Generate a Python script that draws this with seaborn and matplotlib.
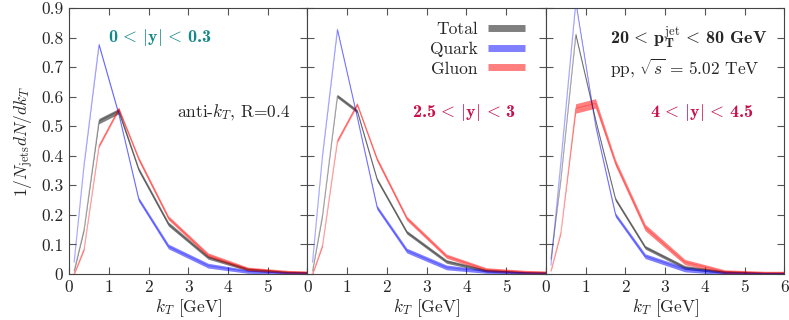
import numpy as np
import pandas as pd
import seaborn as sns
import matplotlib.pyplot as plt
from matplotlib.lines import Line2D

# bin centres in kT [GeV]
kt = [0.125, 0.375, 0.75, 1.25, 1.75, 2.5, 3.5, 4.5, 5.5, 6.0]

# panel 1: 0 < |y| < 0.3
total_1 = [0.01, 0.15, 0.517, 0.551, 0.354, 0.169, 0.056, 0.015, 0.005, 0.004]
quark_1 = [0.04, 0.37, 0.776, 0.54, 0.253, 0.093, 0.028, 0.008, 0.003, 0.002]
gluon_1 = [0.0, 0.084, 0.433, 0.559, 0.39, 0.19, 0.064, 0.017, 0.007, 0.005]
# panel 2: 2.5 < |y| < 3
total_2 = [0.01, 0.197, 0.602, 0.551, 0.32, 0.141, 0.042, 0.011, 0.004, 0.003]
quark_2 = [0.04, 0.40, 0.827, 0.53, 0.225, 0.079, 0.022, 0.008, 0.003, 0.002]
gluon_2 = [0.0, 0.096, 0.45, 0.574, 0.388, 0.188, 0.06, 0.015, 0.007, 0.005]
# panel 3: 4 < |y| < 4.5
total_3 = [0.05, 0.32, 0.81, 0.52, 0.253, 0.09, 0.022, 0.006, 0.002, 0.002]
quark_3 = [0.03, 0.38, 0.92, 0.50, 0.20, 0.06, 0.015, 0.003, 0.001, 0.001]
gluon_3 = [0.01, 0.14, 0.56, 0.577, 0.377, 0.157, 0.04, 0.008, 0.004, 0.004]

# uncertainty half-widths
err_total_1 = [0.004, 0.005, 0.009, 0.009, 0.007, 0.007, 0.006, 0.005, 0.004, 0.004]
err_total = [0.004, 0.005, 0.006, 0.006, 0.006, 0.006, 0.006, 0.005, 0.004, 0.004]
err_quark = [0.004, 0.005, 0.006, 0.006, 0.007, 0.008, 0.008, 0.006, 0.004, 0.004]
err_gluon = [0.004, 0.005, 0.006, 0.006, 0.007, 0.007, 0.007, 0.006, 0.005, 0.005]
err_gluon_3 = [0.004, 0.005, 0.016, 0.016, 0.011, 0.011, 0.009, 0.006, 0.005, 0.005]

panels = [
    (total_1, quark_1, gluon_1, err_total_1, err_quark, err_gluon),
    (total_2, quark_2, gluon_2, err_total, err_quark, err_gluon),
    (total_3, quark_3, gluon_3, err_total, err_quark, err_gluon_3),
]
series_names = ["Total", "Quark", "Gluon"]
palette = {"Total": "black", "Quark": "blue", "Gluon": "red"}

sns.set_style("ticks")
plt.rcParams["font.family"] = ["cmr10", "DejaVu Serif"]
plt.rcParams["mathtext.fontset"] = "cm"
plt.rcParams["axes.formatter.use_mathtext"] = True

fs = 12.5
fs_bold = 13
bold_family = ["cmb10", "DejaVu Serif"]
fig, axes = plt.subplots(1, 3, figsize=(7.89, 3.2), dpi=100, sharey=True)
fig.subplots_adjust(left=0.0875, right=0.994, bottom=0.144, top=0.975, wspace=0)


def long_form(vals, errs):
    rows = []
    for name, v, e in zip(series_names, vals, errs):
        for x, y, d in zip(kt, v, e):
            rows.append({"kt": x, "val": y - d, "series": name})
            rows.append({"kt": x, "val": y + d, "series": name})
    return pd.DataFrame(rows)


for i, (ax, p) in enumerate(zip(axes, panels)):
    df = long_form(p[:3], p[3:])
    sns.lineplot(data=df, x="kt", y="val", hue="series", hue_order=series_names,
                 palette=palette, estimator="mean", errorbar=("pi", 100),
                 err_kws={"alpha": 0.5, "linewidth": 0}, linewidth=0.7, alpha=0.3,
                 legend=False, ax=ax)
    ax.set_xlim(0, 6)
    ax.set_ylim(0, 0.9)
    ax.set_xticks(range(7))
    if i < 2:
        ax.set_xticklabels(["0", "1", "2", "3", "4", "5", ""])
    else:
        ax.set_xticklabels([str(t) for t in range(7)])
    ax.set_yticks(np.arange(0, 0.91, 0.1))
    ax.set_yticklabels(["0"] + [f"{t:.1f}" for t in np.arange(0.1, 0.91, 0.1)])
    ax.tick_params(direction="in", top=True, right=True, length=5, width=0.8,
                   color="#555555", labelsize=fs, pad=4)
    for s in ax.spines.values():
        s.set_color("#444444")
        s.set_linewidth(0.8)
    ax.set_xlabel(r"$k_T$ [GeV]", fontsize=fs, labelpad=2)
    ax.set_ylabel("")

axes[0].set_ylabel(r"$1/N_{\rm jets} dN/dk_T$", fontsize=fs, labelpad=4)

# annotations
axes[0].text(2.3, 0.8, r"0$\,<\,|$y$|\,<\,$0.3", color="#158888", family=bold_family,
             fontsize=fs_bold, ha="center", va="center")
axes[0].text(5.57, 0.547, r"anti-$k_T$, R=0.4", fontsize=fs, ha="right", va="center")
axes[1].text(3.93, 0.547, r"2.5$\,<\,|$y$|\,<\,$3", color="#c8104a", family=bold_family,
             fontsize=fs_bold, ha="center", va="center")
axes[2].text(1.61, 0.8, r"20$\,<\,\mathbf{p}_\mathbf{T}^{\rm jet}\,<\,$80 GeV",
             family=bold_family, fontsize=fs_bold, ha="left", va="center")
axes[2].text(1.61, 0.697, r"pp, $\sqrt{s}\,=\,5.02$ TeV", fontsize=fs,
             ha="left", va="center")
axes[2].text(3.93, 0.547, r"4$\,<\,|$y$|\,<\,$4.5", color="#c8104a", family=bold_family,
             fontsize=fs_bold, ha="center", va="center")

handles = [Line2D([0], [0], color=palette[n], alpha=0.5, lw=5, label=n,
                  solid_capstyle="butt") for n in series_names]
axes[1].legend(handles=handles, loc="upper right", bbox_to_anchor=(0.97, 1.0),
               frameon=False, markerfirst=False, fontsize=fs, handlelength=2.1,
               labelspacing=0.25, handletextpad=0.6, borderpad=0.3)

plt.savefig("out.png", dpi=100)
